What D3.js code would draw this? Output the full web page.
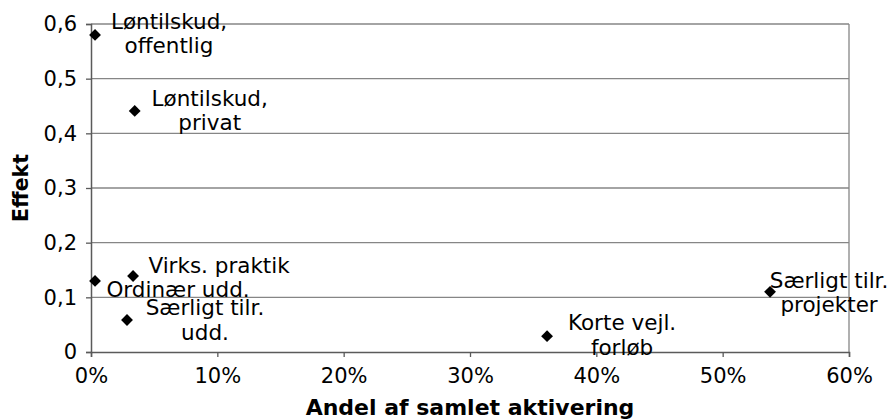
<!DOCTYPE html>
<html>
<head>
<meta charset="utf-8">
<script src="https://cdn.jsdelivr.net/npm/d3@7"></script>
<style>
  html, body { margin: 0; padding: 0; background: #fff; }
  svg { display: block; font-family: "DejaVu Sans", Verdana, sans-serif; }
</style>
</head>
<body>
<svg id="chart" width="894" height="419"></svg>
<script>
// ---- data ----
const categories = [
  "Løntilskud,\noffentlig",
  "Løntilskud,\nprivat",
  "Virks. praktik",
  "Ordinær udd.",
  "Særligt tilr.\nudd.",
  "Korte vejl.\nforløb",
  "Særligt tilr.\nprojekter"
];
const andel = [0.32, 3.46, 3.33, 0.32, 2.85, 36.1, 53.75];   // % of total activation
const effekt = [0.58, 0.441, 0.139, 0.13, 0.0585, 0.029, 0.11];
const xTicks = [0, 10, 20, 30, 40, 50, 60];
const xTickLabels = ["0%", "10%", "20%", "30%", "40%", "50%", "60%"];
const yTicks = [0, 0.1, 0.2, 0.3, 0.4, 0.5, 0.6];
const yTickLabels = ["0", "0,1", "0,2", "0,3", "0,4", "0,5", "0,6"];
const xTitle = "Andel af samlet aktivering";
const yTitle = "Effekt";

// ---- layout (label offsets relative to point: center dx, first baseline dy) ----
const labelOffsets = [[74, -6], [75, -5], [86, -3], [83, 16], [78, -5], [75, -6], [59, -4]];
const lineHeight = 24.5;

const W = 894, H = 419;
const margin = { left: 91, top: 24, right: 45, bottom: 67 };
const iw = W - margin.left - margin.right;
const ih = H - margin.top - margin.bottom;

const svg = d3.select("#chart");
const g = svg.append("g").attr("transform", `translate(${margin.left},${margin.top})`);

const x = d3.scaleLinear().domain([0, 60]).range([0, iw]);
const y = d3.scaleLinear().domain([0, 0.6]).range([ih, 0]);

// gridlines
g.append("g").selectAll("line").data(yTicks.slice(1)).join("line")
  .attr("x1", 0).attr("x2", iw)
  .attr("y1", d => y(d)).attr("y2", d => y(d))
  .attr("stroke", "#868686").attr("stroke-width", 1.3);

// right border of plot area
g.append("line").attr("x1", iw).attr("x2", iw).attr("y1", 0).attr("y2", ih)
  .attr("stroke", "#868686").attr("stroke-width", 1.3);

// axes
const xAxis = d3.axisBottom(x).tickValues(xTicks)
  .tickFormat((d, i) => xTickLabels[i]).tickSize(5).tickPadding(11);
const yAxis = d3.axisLeft(y).tickValues(yTicks)
  .tickFormat((d, i) => yTickLabels[i]).tickSize(5).tickPadding(9);

const gx = g.append("g").attr("transform", `translate(0,${ih})`).call(xAxis);
const gy = g.append("g").call(yAxis);
[gx, gy].forEach(a => {
  a.select(".domain").attr("stroke", "#5a5a5a").attr("stroke-width", 1.5);
  a.selectAll(".tick line").attr("stroke", "#5a5a5a").attr("stroke-width", 1.3);
  a.selectAll("text").attr("fill", "#000").style("font-size", "21px")
    .style("font-family", "'DejaVu Sans', Verdana, sans-serif");
});
gy.selectAll(".tick text").attr("dy", "0.33em");

// points
const pts = categories.map((c, i) => ({ name: c, x: andel[i], y: effekt[i], off: labelOffsets[i] }));
g.append("g").selectAll("path").data(pts).join("path")
  .attr("d", d3.symbol().type(d3.symbolSquare).size(70))
  .attr("transform", d => `translate(${x(d.x)},${y(d.y)}) rotate(45)`)
  .attr("fill", "#000");

// labels
const lbl = g.append("g").selectAll("text").data(pts).join("text")
  .attr("text-anchor", "middle")
  .attr("fill", "#000")
  .style("font-size", "21.5px")
  .attr("x", d => x(d.x) + d.off[0])
  .attr("y", d => y(d.y) + d.off[1]);
lbl.selectAll("tspan").data(d => d.name.split("\n").map(t => ({ t, d }))).join("tspan")
  .attr("x", o => x(o.d.x) + o.d.off[0])
  .attr("dy", (o, i) => i === 0 ? 0 : lineHeight)
  .text(o => o.t);

// axis titles
svg.append("text")
  .attr("x", margin.left + iw / 2).attr("y", 415)
  .attr("text-anchor", "middle")
  .style("font-size", "22px").style("font-weight", "bold")
  .text(xTitle);

svg.append("text")
  .attr("transform", `translate(28,${margin.top + ih / 2}) rotate(-90)`)
  .attr("text-anchor", "middle")
  .style("font-size", "20.5px").style("font-weight", "bold")
  .text(yTitle);
</script>
</body>
</html>
